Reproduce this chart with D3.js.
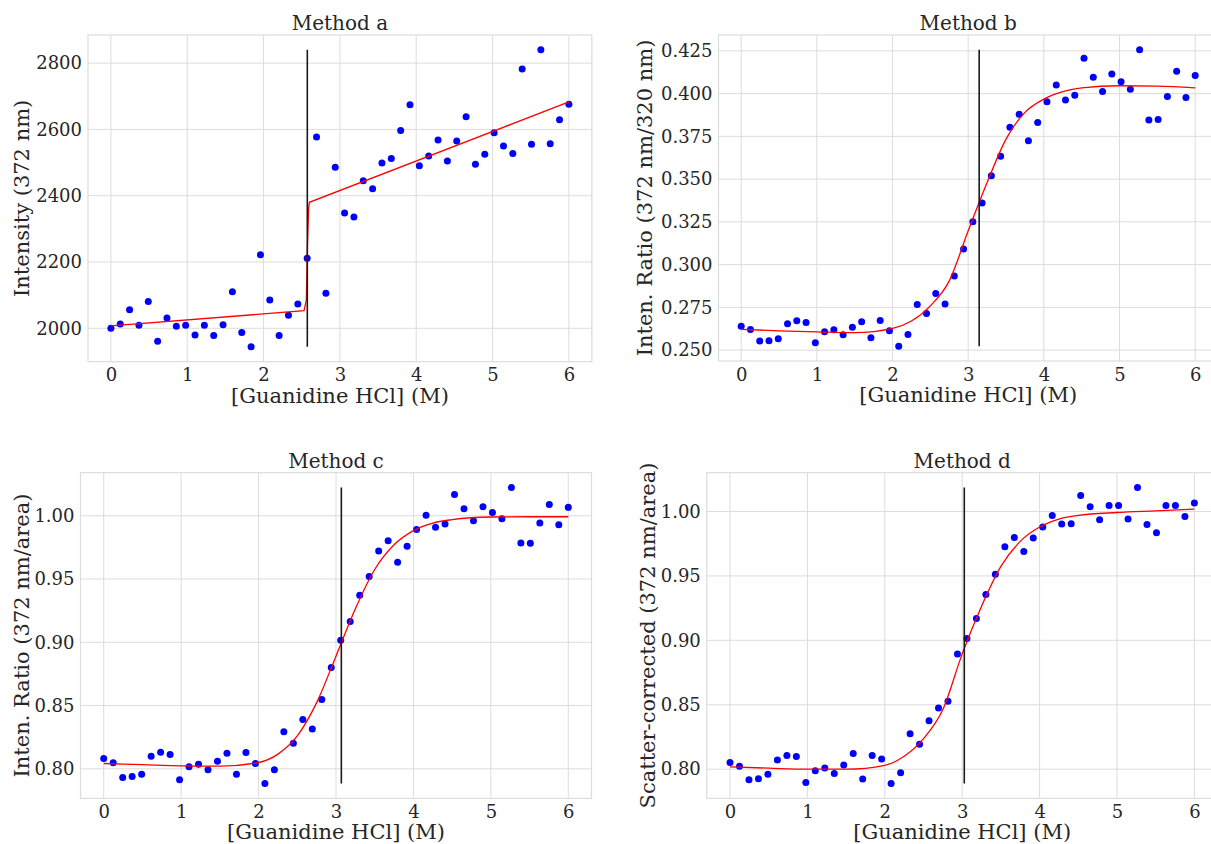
<!DOCTYPE html>
<html><head><meta charset="utf-8">
<script src="https://cdn.jsdelivr.net/npm/d3@7"></script>
<style>
body{margin:0;background:#fff;}
svg{display:block;}
text{font-family:"DejaVu Serif",serif;fill:#262626;}
</style></head>
<body><svg id="chart" width="1211" height="844"></svg>
<script>
// ---- data ----
const conc = [0,0.1224,0.2449,0.3673,0.4898,0.6122,0.7347,0.8571,0.9796,1.1020,1.2245,1.3469,1.4694,1.5918,1.7143,1.8367,1.9592,2.0816,2.2041,2.3265,2.4490,2.5714,2.6939,2.8163,2.9388,3.0612,3.1837,3.3061,3.4286,3.5510,3.6735,3.7959,3.9184,4.0408,4.1633,4.2857,4.4082,4.5306,4.6531,4.7755,4.8980,5.0204,5.1429,5.2653,5.3878,5.5102,5.6327,5.7551,5.8776,6.0];

const valuesA = [2000,2013,2056,2009,2081,1961,2031,2006,2009,1980,2009,1978,2011,2110,1987,1944,2222,2085,1978,2039,2073,2211,2577,2106,2486,2348,2336,2445,2421,2499,2512,2597,2674,2490,2520,2568,2505,2565,2638,2495,2525,2590,2550,2527,2782,2555,2840,2557,2629,2676];
const valuesB = [0.2640,0.2621,0.2553,0.2555,0.2566,0.2654,0.2672,0.2662,0.2543,0.2607,0.2619,0.2590,0.2634,0.2666,0.2572,0.2673,0.2613,0.2523,0.2592,0.2767,0.2714,0.2831,0.2769,0.2933,0.3092,0.3251,0.3360,0.3520,0.3633,0.3803,0.3879,0.3724,0.3831,0.3952,0.4051,0.3962,0.3991,0.4207,0.4096,0.4012,0.4114,0.4069,0.4026,0.4256,0.3845,0.3849,0.3983,0.4131,0.3977,0.4106];
const valuesC = [0.8081,0.8047,0.7932,0.7940,0.7958,0.8100,0.8131,0.8113,0.7913,0.8016,0.8037,0.7992,0.8060,0.8124,0.7958,0.8129,0.8042,0.7884,0.7992,0.8292,0.8202,0.8389,0.8315,0.8547,0.8800,0.9015,0.9164,0.9372,0.9519,0.9721,0.9803,0.9632,0.9758,0.9892,1.0003,0.9908,0.9934,1.0168,1.0055,0.9961,1.0071,1.0026,0.9976,1.0223,0.9784,0.9782,0.9942,1.0089,0.9929,1.0066];
const valuesD = [0.8051,0.8023,0.7918,0.7925,0.7961,0.8072,0.8106,0.8098,0.7897,0.7987,0.8010,0.7967,0.8033,0.8121,0.7923,0.8106,0.8080,0.7889,0.7972,0.8275,0.8193,0.8376,0.8474,0.8528,0.8894,0.9014,0.9169,0.9355,0.9512,0.9726,0.9798,0.9690,0.9794,0.9879,0.9969,0.9902,0.9904,1.0124,1.0037,0.9936,1.0047,1.0047,0.9941,1.0186,0.9898,0.9834,1.0047,1.0047,0.9960,1.0066];

// fitted curves
const fitA = [[0,2007],[2.53,2053],[2.56,2085],[2.575,2250],[2.59,2362],[2.6,2380],[6,2683]];
const fitB = [[0,0.2621],[0.5,0.2613],[1,0.2607],[1.5,0.2602],[2,0.2627],[2.25,0.2670],[2.5,0.2759],[2.75,0.2905],[3,0.3198],[3.25,0.3480],[3.5,0.3734],[3.75,0.3890],[4,0.3968],[4.25,0.4012],[4.5,0.4034],[5,0.4046],[5.5,0.4044],[6,0.4034]];
const fitC = [[0,0.8042],[0.5,0.8033],[1,0.8024],[1.5,0.8021],[2,0.8050],[2.25,0.8116],[2.5,0.8260],[2.75,0.8523],[3,0.8890],[3.25,0.9265],[3.5,0.9575],[3.75,0.9770],[4,0.9882],[4.25,0.9942],[4.5,0.9969],[5,0.9990],[5.5,0.9992],[6,0.9992]];
const fitD = [[0,0.8018],[0.5,0.8008],[1,0.8000],[1.5,0.8000],[2,0.8030],[2.25,0.8100],[2.5,0.8237],[2.75,0.8463],[3,0.8895],[3.25,0.9265],[3.5,0.9574],[3.75,0.9768],[4,0.9879],[4.25,0.9941],[4.5,0.9969],[5,0.9992],[5.5,1.0005],[6,1.0018]];

// midpoints (vertical markers)
const midpoints = [2.573, 3.145, 3.069, 3.027];

const titles = ["Method a","Method b","Method c","Method d"];
const yLabels = ["Intensity (372 nm)","Inten. Ratio (372 nm/320 nm)","Inten. Ratio (372 nm/area)","Scatter-corrected (372 nm/area)"];
const xLabel = "[Guanidine HCl] (M)";
const xTicks = [0,1,2,3,4,5,6];
const yTicksA = [2000,2200,2400,2600,2800];
const yTicksB = [0.250,0.275,0.300,0.325,0.350,0.375,0.400,0.425];
const yTicksC = [0.80,0.85,0.90,0.95,1.00];
const yTicksD = [0.80,0.85,0.90,0.95,1.00];

// ---- layout ----
const panels = [
  {vals:valuesA, fit:fitA, curve:d3.curveLinear,    yt:yTicksA, fmt:d3.format("d"),   box:{l:88,   t:35,    w:503.8, h:326.7}, ylx:22},
  {vals:valuesB, fit:fitB, curve:d3.curveMonotoneX, yt:yTicksB, fmt:d3.format(".3f"), box:{l:718.5, t:35,   w:499.4, h:326},   ylx:645},
  {vals:valuesC, fit:fitC, curve:d3.curveMonotoneX, yt:yTicksC, fmt:d3.format(".2f"), box:{l:80.5, t:472.7, w:511,   h:325.6}, ylx:22},
  {vals:valuesD, fit:fitD, curve:d3.curveMonotoneX, yt:yTicksD, fmt:d3.format(".2f"), box:{l:706.8,t:472.7, w:510.8, h:325.6}, ylx:648}
];

const svg = d3.select("#chart");
const gridColor = "#dcdcdc";

panels.forEach((p,i)=>{
  const b = p.box;
  const g = svg.append("g").attr("transform",`translate(${b.l},${b.t})`);
  const ext = d3.extent(p.vals);
  const pad = (ext[1]-ext[0])*0.05;
  const x = d3.scaleLinear().domain([-0.3,6.3]).range([0,b.w]);
  const y = d3.scaleLinear().domain([ext[0]-pad, ext[1]+pad]).range([b.h,0]);

  // grid
  g.append("g").selectAll("line").data(xTicks).join("line")
    .attr("x1",d=>x(d)).attr("x2",d=>x(d)).attr("y1",0).attr("y2",b.h)
    .attr("stroke",gridColor).attr("stroke-width",1);
  g.append("g").selectAll("line").data(p.yt).join("line")
    .attr("y1",d=>y(d)).attr("y2",d=>y(d)).attr("x1",0).attr("x2",b.w)
    .attr("stroke",gridColor).attr("stroke-width",1);
  g.append("rect").attr("width",b.w).attr("height",b.h)
    .attr("fill","none").attr("stroke",gridColor).attr("stroke-width",1.2);

  // axes (tick labels)
  const xa = g.append("g").attr("transform",`translate(0,${b.h})`)
    .call(d3.axisBottom(x).tickValues(xTicks).tickSize(0).tickPadding(7).tickFormat(d3.format("d")));
  const ya = g.append("g")
    .call(d3.axisLeft(y).tickValues(p.yt).tickSize(0).tickPadding(6).tickFormat(p.fmt));
  [xa,ya].forEach(a=>{
    a.select(".domain").remove();
    a.selectAll("text").attr("font-family","DejaVu Serif").attr("font-size",18).attr("fill","#262626");
  });

  // scatter
  g.append("g").selectAll("circle").data(p.vals).join("circle")
    .attr("cx",(d,k)=>x(conc[k])).attr("cy",d=>y(d)).attr("r",3.5).attr("fill","#0000ff");

  // fit line
  g.append("path").datum(p.fit)
    .attr("d",d3.line().x(d=>x(d[0])).y(d=>y(d[1])).curve(p.curve))
    .attr("fill","none").attr("stroke","#ff0000").attr("stroke-width",1.3);

  // midpoint marker
  g.append("line").attr("x1",x(midpoints[i])).attr("x2",x(midpoints[i]))
    .attr("y1",y(ext[0])).attr("y2",y(ext[1]))
    .attr("stroke","#1a1a1a").attr("stroke-width",1.6);

  // title
  svg.append("text").attr("x",b.l+b.w/2).attr("y",b.t-5)
    .attr("text-anchor","middle").attr("font-size",20).text(titles[i]);
  // x label
  svg.append("text").attr("x",b.l+b.w/2).attr("y",b.t+b.h+41)
    .attr("text-anchor","middle").attr("font-size",21).text(xLabel);
  // y label
  svg.append("text").attr("transform",`translate(${p.ylx},${b.t+b.h/2}) rotate(-90)`)
    .attr("text-anchor","middle").attr("dominant-baseline","central").attr("font-size",21).text(yLabels[i]);
});
</script></body></html>
